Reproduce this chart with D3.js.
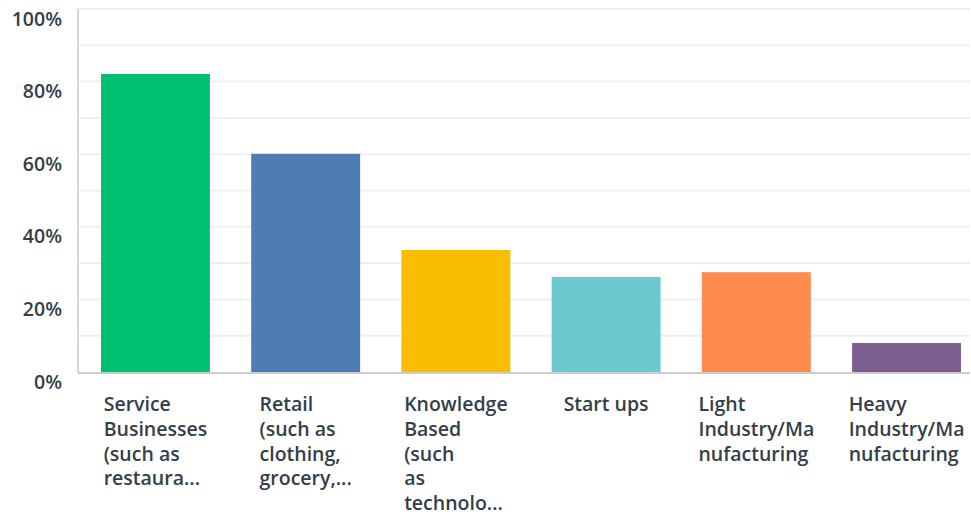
<!DOCTYPE html>
<html><head><meta charset="utf-8">
<script src="https://cdn.jsdelivr.net/npm/d3@7"></script>
<style>
html,body{margin:0;padding:0;background:#fff;}
svg{display:block;font-family:"Open Sans",sans-serif;}
</style></head>
<body><svg id="chart" width="971" height="514"></svg>
<script>
const categories = ["Service Businesses (such as restaurants...)", "Retail (such as clothing, grocery...)", "Knowledge Based (such as technology...)", "Start ups", "Light Industry/Manufacturing", "Heavy Industry/Manufacturing"];
const labelLines = [
  ["Service", "Businesses", "(such as", "restaura..."],
  ["Retail", "(such as", "clothing,", "grocery,..."],
  ["Knowledge", "Based", "(such", "as", "technolo..."],
  ["Start ups"],
  ["Light", "Industry/Ma", "nufacturing"],
  ["Heavy", "Industry/Ma", "nufacturing"]
];
const values = [82.1, 60.1, 33.6, 26.2, 27.5, 8.0];
const colors = ["#00bf6f", "#507cb6", "#f9be00", "#6bc8cd", "#ff8b4f", "#7d5e90"];
const gridTicks = [0,10,20,30,40,50,60,70,80,90,100];
const labelTicks = [0,20,40,60,80,100];

(function(){
const svg = d3.select("#chart");
const mLeft = 78, mRight = 984, mTop = 9, mBottom = 372, gridRight = 970;
const textColor = "#333e48";
const fs = 19.5;

const y = d3.scaleLinear().domain([0,100]).range([mBottom, mTop]);
const x = d3.scaleBand().domain(categories).range([mLeft, mRight]).paddingInner(0.275).paddingOuter(0.153);

svg.append("g").selectAll("line").data(gridTicks.filter(d=>d>0)).join("line")
  .attr("x1", mLeft).attr("x2", gridRight)
  .attr("y1", d=>y(d)).attr("y2", d=>y(d))
  .attr("stroke", "#efefef").attr("stroke-width", 2);

svg.append("g").selectAll("rect").data(values).join("rect")
  .attr("x", (d,i)=>x(categories[i]))
  .attr("width", x.bandwidth())
  .attr("y", d=>y(d))
  .attr("height", d=>y(0)-y(d))
  .attr("fill", (d,i)=>colors[i]);

svg.append("line").attr("x1", mLeft).attr("x2", mLeft).attr("y1", mTop).attr("y2", mBottom+1)
  .attr("stroke", "#d6d6d6").attr("stroke-width", 2);
svg.append("line").attr("x1", mLeft).attr("x2", gridRight).attr("y1", mBottom+1).attr("y2", mBottom+1)
  .attr("stroke", "#cccccc").attr("stroke-width", 2);

const yAxis = d3.axisLeft(y).tickValues(labelTicks).tickFormat(d=>d+"%").tickSize(0).tickPadding(16);
const ya = svg.append("g").attr("transform", `translate(${mLeft},0)`).call(yAxis);
ya.select(".domain").remove();
ya.selectAll("text").attr("fill", textColor).attr("font-size", fs).attr("font-weight", 600)
  .attr("font-family", "'Open Sans',sans-serif").attr("dy", 16).attr("x", -16);

const lg = svg.append("g");
categories.forEach((c,i)=>{
  const t = lg.append("text").attr("fill", textColor).attr("font-size", fs).attr("font-weight", 600);
  labelLines[i].forEach((ln,j)=>{
    t.append("tspan").attr("x", 0).attr("y", 411 + j*24.75).text(ln);
  });
  const w = t.node().getBBox().width;
  const cx = x(c) + x.bandwidth()/2;
  t.attr("transform", `translate(${cx - w/2},0)`);
});
})();
</script>
</body></html>
